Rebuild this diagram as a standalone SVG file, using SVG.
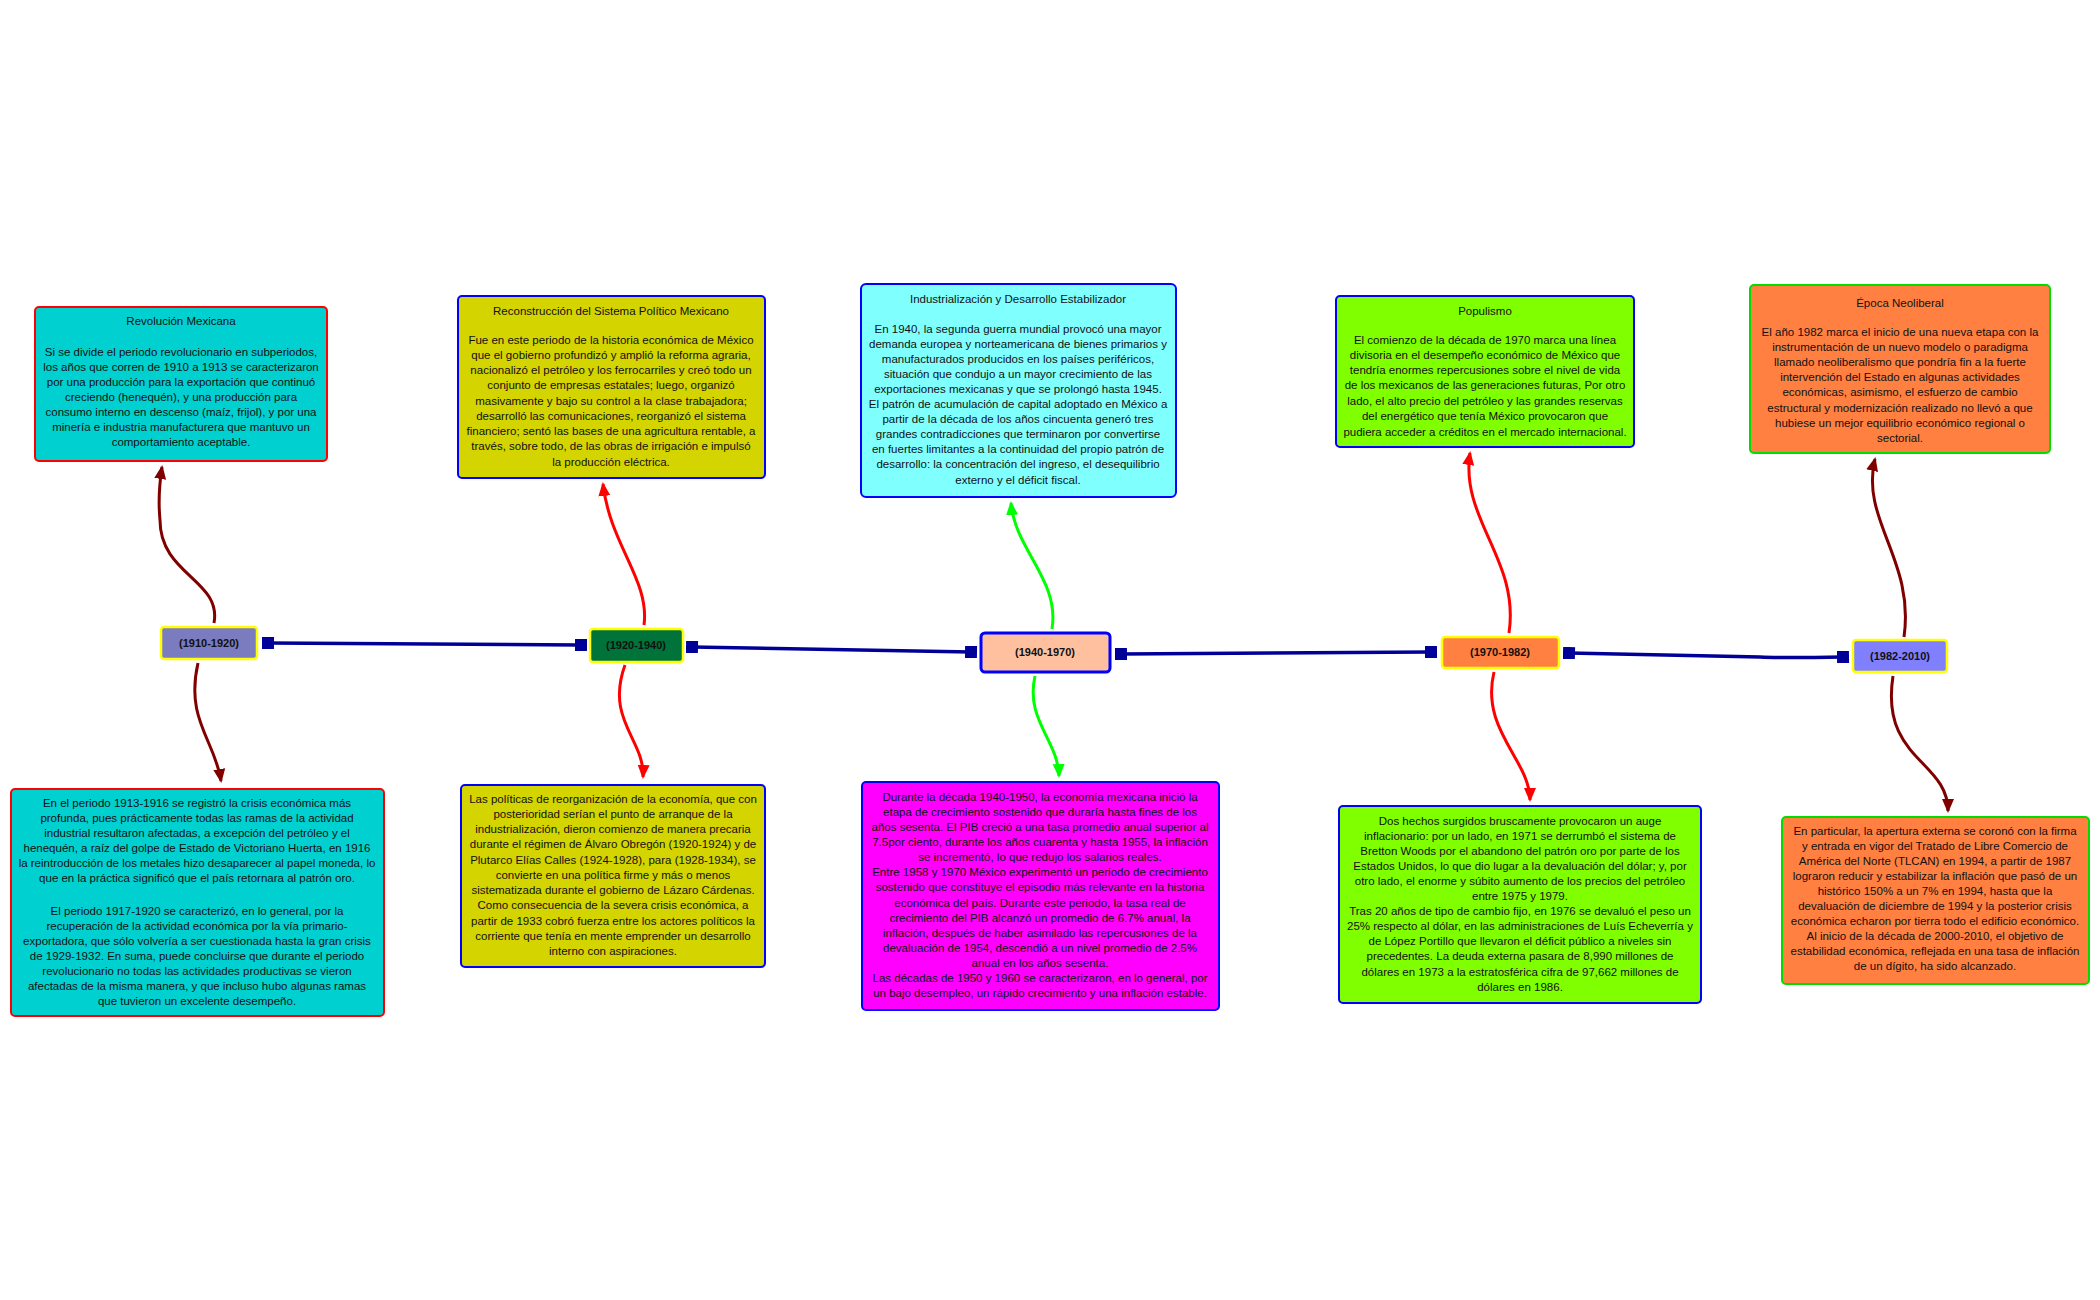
<svg xmlns="http://www.w3.org/2000/svg" width="2100" height="1300" viewBox="0 0 2100 1300">
<style>
text{font-family:"Liberation Sans",Arial,sans-serif;font-size:11.5px;fill:#111;text-anchor:middle}
.nt{font-weight:bold;font-size:11px}
.box{stroke-width:2}
.c{fill:none;stroke-width:3}
.ax{fill:none;stroke:#000099;stroke-width:3.5}
</style>
<defs>
<marker id="mdr" markerUnits="userSpaceOnUse" markerWidth="16" markerHeight="16" refX="12" refY="8" orient="auto"><path d="M0,2 L14,8 L0,14 Z" fill="#800000"/></marker>
<marker id="mr" markerUnits="userSpaceOnUse" markerWidth="16" markerHeight="16" refX="12" refY="8" orient="auto"><path d="M0,2 L14,8 L0,14 Z" fill="#FF0000"/></marker>
<marker id="mg" markerUnits="userSpaceOnUse" markerWidth="16" markerHeight="16" refX="12" refY="8" orient="auto"><path d="M0,2 L14,8 L0,14 Z" fill="#00FF00"/></marker>
<marker id="sq" markerUnits="userSpaceOnUse" markerWidth="14" markerHeight="14" refX="6" refY="6" orient="auto"><rect x="0" y="0" width="12" height="12" fill="#000099"/></marker>
</defs>
<g id="connectors">
<path class="ax" d="M268,643 L581,645" marker-start="url(#sq)" marker-end="url(#sq)"/>
<path class="ax" d="M692,647 L971,652" marker-start="url(#sq)" marker-end="url(#sq)"/>
<path class="ax" d="M1121,654 L1431,652" marker-start="url(#sq)" marker-end="url(#sq)"/>
<path class="ax" d="M1569,653 L1760,657 Q1781,658 1843,657" marker-start="url(#sq)" marker-end="url(#sq)"/>
<path class="c" stroke="#800000" d="M214,623 C222,580 160,575 160,520 C158,500 160,480 162,467" marker-end="url(#mdr)"/>
<path class="c" stroke="#800000" d="M198,663 C185,720 215,740 221,781" marker-end="url(#mdr)"/>
<path class="c" stroke="#FF0000" d="M644,625 C650,580 610,545 603,484" marker-end="url(#mr)"/>
<path class="c" stroke="#FF0000" d="M625,665 C605,720 645,740 643,777" marker-end="url(#mr)"/>
<path class="c" stroke="#00FF00" d="M1052,629 C1060,580 1015,550 1011,503" marker-end="url(#mg)"/>
<path class="c" stroke="#00FF00" d="M1035,676 C1025,720 1058,740 1059,776" marker-end="url(#mg)"/>
<path class="c" stroke="#FF0000" d="M1509,633 C1520,560 1460,520 1470,453" marker-end="url(#mr)"/>
<path class="c" stroke="#FF0000" d="M1494,672 C1480,730 1530,760 1530,800" marker-end="url(#mr)"/>
<path class="c" stroke="#800000" d="M1904,637 C1915,560 1860,520 1875,459" marker-end="url(#mdr)"/>
<path class="c" stroke="#800000" d="M1893,676 C1880,760 1948,760 1948,811" marker-end="url(#mdr)"/>
</g>
<g id="n1"><rect x="161" y="627" width="96" height="32" rx="3" fill="#7B7BC0" stroke="#FFFF00" stroke-width="2.5"/><text class="nt" x="209" y="647">(1910-1920)</text></g>
<g id="n2"><rect x="590" y="629" width="93" height="33" rx="3" fill="#00733A" stroke="#FFFF00" stroke-width="2.5"/><text class="nt" x="636" y="649">(1920-1940)</text></g>
<g id="n3"><rect x="981" y="633" width="129" height="39" rx="4" fill="#FFC09F" stroke="#0000FF" stroke-width="3"/><text class="nt" x="1045" y="656">(1940-1970)</text></g>
<g id="n4"><rect x="1442" y="637" width="117" height="31" rx="3" fill="#FF8040" stroke="#FFFF00" stroke-width="2.5"/><text class="nt" x="1500" y="656">(1970-1982)</text></g>
<g id="n5"><rect x="1853" y="640" width="94" height="32" rx="3" fill="#8080FF" stroke="#FFFF00" stroke-width="2.5"/><text class="nt" x="1900" y="660">(1982-2010)</text></g>

<g id="b1"><rect class="box" x="35" y="307" width="292" height="154" rx="4" fill="#00D0D0" stroke="#FF0000"/>
<text x="181" y="325">Revolución Mexicana</text>
<text x="181" y="356">Si se divide el periodo revolucionario en subperiodos,</text>
<text x="181" y="371">los años que corren de 1910 a 1913 se caracterizaron</text>
<text x="181" y="386">por una producción para la exportación que continuó</text>
<text x="181" y="401">creciendo (henequén), y una producción para</text>
<text x="181" y="416">consumo interno en descenso (maíz, frijol), y por una</text>
<text x="181" y="431">minería e industria manufacturera que mantuvo un</text>
<text x="181" y="446">comportamiento aceptable.</text></g>

<g id="b2"><rect class="box" x="458" y="296" width="307" height="182" rx="4" fill="#D4D400" stroke="#0000FF"/>
<text x="611" y="315">Reconstrucción del Sistema Político Mexicano</text>
<text x="611" y="344">Fue en este periodo de la historia económica de México</text>
<text x="611" y="359">que el gobierno profundizó y amplió la reforma agraria,</text>
<text x="611" y="374">nacionalizó el petróleo y los ferrocarriles y creó todo un</text>
<text x="611" y="389">conjunto de empresas estatales; luego, organizó</text>
<text x="611" y="405">masivamente y bajo su control a la clase trabajadora;</text>
<text x="611" y="420">desarrolló las comunicaciones, reorganizó el sistema</text>
<text x="611" y="435">financiero; sentó las bases de una agricultura rentable, a</text>
<text x="611" y="450">través, sobre todo, de las obras de irrigación e impulsó</text>
<text x="611" y="466">la producción eléctrica.</text></g>

<g id="b3"><rect class="box" x="861" y="284" width="315" height="213" rx="5" fill="#80FFFF" stroke="#0000FF"/>
<text x="1018" y="303">Industrialización y Desarrollo Estabilizador</text>
<text x="1018" y="333">En 1940, la segunda guerra mundial provocó una mayor</text>
<text x="1018" y="348">demanda europea y norteamericana de bienes primarios y</text>
<text x="1018" y="363">manufacturados producidos en los países periféricos,</text>
<text x="1018" y="378">situación que condujo a un mayor crecimiento de las</text>
<text x="1018" y="393">exportaciones mexicanas y que se prolongó hasta 1945.</text>
<text x="1018" y="408">El patrón de acumulación de capital adoptado en México a</text>
<text x="1018" y="423">partir de la década de los años cincuenta generó tres</text>
<text x="1018" y="438">grandes contradicciones que terminaron por convertirse</text>
<text x="1018" y="453">en fuertes limitantes a la continuidad del propio patrón de</text>
<text x="1018" y="468">desarrollo: la concentración del ingreso, el desequilibrio</text>
<text x="1018" y="484">externo y el déficit fiscal.</text></g>

<g id="b4"><rect class="box" x="1336" y="296" width="298" height="151" rx="4" fill="#80FF00" stroke="#0000FF"/>
<text x="1485" y="315">Populismo</text>
<text x="1485" y="344">El comienzo de la década de 1970 marca una línea</text>
<text x="1485" y="359">divisoria en el desempeño económico de México que</text>
<text x="1485" y="374">tendría enormes repercusiones sobre el nivel de vida</text>
<text x="1485" y="389">de los mexicanos de las generaciones futuras, Por otro</text>
<text x="1485" y="405">lado, el alto precio del petróleo y las grandes reservas</text>
<text x="1485" y="420">del energético que tenía México provocaron que</text>
<text x="1485" y="436">pudiera acceder a créditos en el mercado internacional.</text></g>

<g id="b5"><rect class="box" x="1750" y="285" width="300" height="168" rx="4" fill="#FF8040" stroke="#00DD00"/>
<text x="1900" y="307">Época Neoliberal</text>
<text x="1900" y="336">El año 1982 marca el inicio de una nueva etapa con la</text>
<text x="1900" y="351">instrumentación de un nuevo modelo o paradigma</text>
<text x="1900" y="366">llamado neoliberalismo que pondría fin a la fuerte</text>
<text x="1900" y="381">intervención del Estado en algunas actividades</text>
<text x="1900" y="396">económicas, asimismo, el esfuerzo de cambio</text>
<text x="1900" y="412">estructural y modernización realizado no llevó a que</text>
<text x="1900" y="427">hubiese un mejor equilibrio económico regional o</text>
<text x="1900" y="442">sectorial.</text></g>

<g id="c1"><rect class="box" x="11" y="789" width="373" height="227" rx="4" fill="#00D0D0" stroke="#FF0000"/>
<text x="197" y="807">En el periodo 1913-1916 se registró la crisis económica más</text>
<text x="197" y="822">profunda, pues prácticamente todas las ramas de la actividad</text>
<text x="197" y="837">industrial resultaron afectadas, a excepción del petróleo y el</text>
<text x="197" y="852">henequén, a raíz del golpe de Estado de Victoriano Huerta, en 1916</text>
<text x="197" y="867">la reintroducción de los metales hizo desaparecer al papel moneda, lo</text>
<text x="197" y="882">que en la práctica significó que el país retornara al patrón oro.</text>
<text x="197" y="915">El periodo 1917-1920 se caracterizó, en lo general, por la</text>
<text x="197" y="930">recuperación de la actividad económica por la vía primario-</text>
<text x="197" y="945">exportadora, que sólo volvería a ser cuestionada hasta la gran crisis</text>
<text x="197" y="960">de 1929-1932. En suma, puede concluirse que durante el periodo</text>
<text x="197" y="975">revolucionario no todas las actividades productivas se vieron</text>
<text x="197" y="990">afectadas de la misma manera, y que incluso hubo algunas ramas</text>
<text x="197" y="1005">que tuvieron un excelente desempeño.</text></g>

<g id="c2"><rect class="box" x="461" y="785" width="304" height="182" rx="4" fill="#D4D400" stroke="#0000FF"/>
<text x="613" y="803">Las políticas de reorganización de la economía, que con</text>
<text x="613" y="818">posterioridad serían el punto de arranque de la</text>
<text x="613" y="833">industrialización, dieron comienzo de manera precaria</text>
<text x="613" y="848">durante el régimen de Álvaro Obregón (1920-1924) y de</text>
<text x="613" y="864">Plutarco Elías Calles (1924-1928), para (1928-1934), se</text>
<text x="613" y="879">convierte en una política firme y más o menos</text>
<text x="613" y="894">sistematizada durante el gobierno de Lázaro Cárdenas.</text>
<text x="613" y="909">Como consecuencia de la severa crisis económica, a</text>
<text x="613" y="925">partir de 1933 cobró fuerza entre los actores políticos la</text>
<text x="613" y="940">corriente que tenía en mente emprender un desarrollo</text>
<text x="613" y="955">interno con aspiraciones.</text></g>

<g id="c3"><rect class="box" x="862" y="782" width="357" height="228" rx="4" fill="#FF00FF" stroke="#0000FF"/>
<text x="1040" y="801">Durante la década 1940-1950, la economía mexicana inició la</text>
<text x="1040" y="816">etapa de crecimiento sostenido que duraría hasta fines de los</text>
<text x="1040" y="831">años sesenta. El PIB creció a una tasa promedio anual superior al</text>
<text x="1040" y="846">7.5por ciento, durante los años cuarenta y hasta 1955, la inflación</text>
<text x="1040" y="861">se incrementó, lo que redujo los salarios reales.</text>
<text x="1040" y="876">Entre 1958 y 1970 México experimentó un periodo de crecimiento</text>
<text x="1040" y="891">sostenido que constituye el episodio más relevante en la historia</text>
<text x="1040" y="907">económica del país. Durante este periodo, la tasa real de</text>
<text x="1040" y="922">crecimiento del PIB alcanzó un promedio de 6.7% anual, la</text>
<text x="1040" y="937">inflación, después de haber asimilado las repercusiones de la</text>
<text x="1040" y="952">devaluación de 1954, descendió a un nivel promedio de 2.5%</text>
<text x="1040" y="967">anual en los años sesenta.</text>
<text x="1040" y="982">Las décadas de 1950 y 1960 se caracterizaron, en lo general, por</text>
<text x="1040" y="997">un bajo desempleo, un rápido crecimiento y una inflación estable.</text></g>

<g id="c4"><rect class="box" x="1339" y="806" width="362" height="197" rx="4" fill="#80FF00" stroke="#0000FF"/>
<text x="1520" y="825">Dos hechos surgidos bruscamente provocaron un auge</text>
<text x="1520" y="840">inflacionario: por un lado, en 1971 se derrumbó el sistema de</text>
<text x="1520" y="855">Bretton Woods por el abandono del patrón oro por parte de los</text>
<text x="1520" y="870">Estados Unidos, lo que dio lugar a la devaluación del dólar; y, por</text>
<text x="1520" y="885">otro lado, el enorme y súbito aumento de los precios del petróleo</text>
<text x="1520" y="900">entre 1975 y 1979.</text>
<text x="1520" y="915">Tras 20 años de tipo de cambio fijo, en 1976 se devaluó el peso un</text>
<text x="1520" y="930">25% respecto al dólar, en las administraciones de Luís Echeverría y</text>
<text x="1520" y="945">de López Portillo que llevaron el déficit público a niveles sin</text>
<text x="1520" y="960">precedentes.  La deuda externa pasara de 8,990 millones de</text>
<text x="1520" y="976">dólares en 1973 a la estratosférica cifra de 97,662 millones de</text>
<text x="1520" y="991">dólares en 1986.</text></g>

<g id="c5"><rect class="box" x="1782" y="817" width="307" height="167" rx="4" fill="#FF8040" stroke="#00DD00"/>
<text x="1935" y="835">En particular, la apertura externa se coronó con la firma</text>
<text x="1935" y="850">y entrada en vigor del Tratado de Libre Comercio de</text>
<text x="1935" y="865">América del Norte (TLCAN) en 1994, a partir de 1987</text>
<text x="1935" y="880">lograron reducir y estabilizar la inflación que pasó de un</text>
<text x="1935" y="895">histórico 150% a un 7% en 1994, hasta que la</text>
<text x="1935" y="910">devaluación de diciembre de 1994 y la posterior crisis</text>
<text x="1935" y="925">económica echaron por tierra todo el edificio económico.</text>
<text x="1935" y="940">Al inicio de la década de 2000-2010, el objetivo de</text>
<text x="1935" y="955">estabilidad económica, reflejada en una tasa de inflación</text>
<text x="1935" y="970">de un dígito, ha sido alcanzado.</text></g>
</svg>
